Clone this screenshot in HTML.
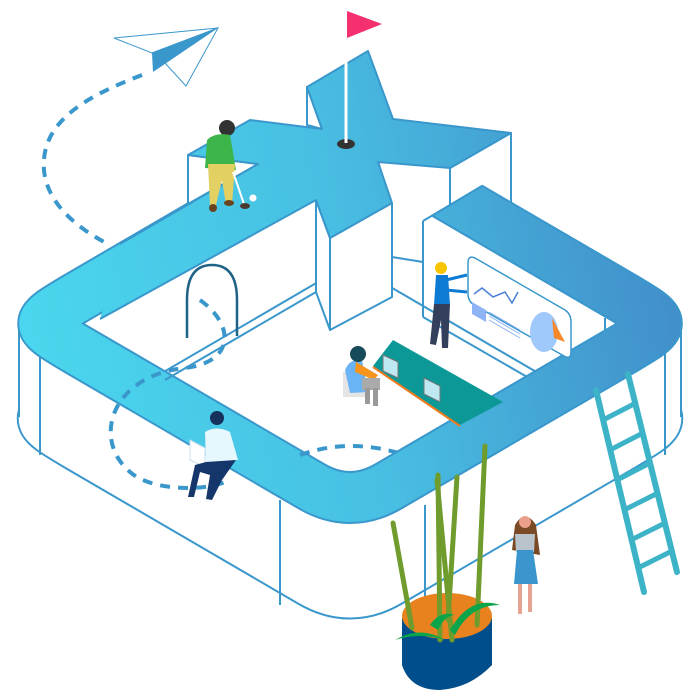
<!DOCTYPE html>
<html><head><meta charset="utf-8"><style>html,body{margin:0;padding:0;background:#fff}svg{display:block}</style></head>
<body>
<svg width="700" height="700" viewBox="0 0 700 700" xmlns="http://www.w3.org/2000/svg" xmlns:xlink="http://www.w3.org/1999/xlink">
<defs>
<linearGradient id="g" gradientUnits="userSpaceOnUse" x1="0" y1="400" x2="700" y2="250">
<stop offset="0" stop-color="#4ad9ef"/><stop offset="0.5" stop-color="#48bfe2"/><stop offset="1" stop-color="#418ac7"/>
</linearGradient>
<path id="ring" d="M76,349 L311,486 Q350,509 389,486 L624,349 C667,323.5 667,323.5 624,298 L389,161 Q350,138 311,161 L76,298 C33,323.5 33,323.5 76,349 Z"/>
<clipPath id="cr"><polygon points="380,246 540,150 700,150 700,700 380,700"/></clipPath>
</defs>

<path d="M142,75 C90,95 40,120 44,170 C47,205 80,230 110,245" fill="none" stroke="#3a97cc" stroke-width="4" stroke-dasharray="10 8"/>
<polygon points="114,38 218,28 152,53" fill="#fff" stroke="#3a97cc" stroke-width="1"/>
<polygon points="152,53 218,28 186,86 165,63" fill="#fff" stroke="#3a97cc" stroke-width="1"/>
<polygon points="152,53 218,28 153,72" fill="#3a97cc"/>

<use xlink:href="#ring" transform="translate(0,95)" fill="none" stroke="#3a97cc" stroke-width="54"/>
<g fill="none" stroke="#fff" stroke-width="50">
<use xlink:href="#ring" transform="translate(0,95)"/><use xlink:href="#ring" transform="translate(0,90)"/><use xlink:href="#ring" transform="translate(0,85)"/><use xlink:href="#ring" transform="translate(0,80)"/><use xlink:href="#ring" transform="translate(0,75)"/><use xlink:href="#ring" transform="translate(0,70)"/><use xlink:href="#ring" transform="translate(0,65)"/><use xlink:href="#ring" transform="translate(0,60)"/><use xlink:href="#ring" transform="translate(0,55)"/><use xlink:href="#ring" transform="translate(0,50)"/><use xlink:href="#ring" transform="translate(0,45)"/><use xlink:href="#ring" transform="translate(0,40)"/><use xlink:href="#ring" transform="translate(0,35)"/><use xlink:href="#ring" transform="translate(0,30)"/><use xlink:href="#ring" transform="translate(0,25)"/><use xlink:href="#ring" transform="translate(0,20)"/><use xlink:href="#ring" transform="translate(0,15)"/><use xlink:href="#ring" transform="translate(0,10)"/><use xlink:href="#ring" transform="translate(0,5)"/>
</g>
<g stroke="#3a97cc" stroke-width="2" fill="none">
<line x1="19" y1="322" x2="19" y2="417"/>
<line x1="681" y1="322" x2="681" y2="417"/>
<line x1="40" y1="352" x2="40" y2="455"/>
<line x1="280" y1="500" x2="280" y2="605"/>
<line x1="425" y1="505" x2="425" y2="605"/>
<line x1="665" y1="352" x2="665" y2="455"/>
</g>

<use xlink:href="#ring" fill="none" stroke="#3a97cc" stroke-width="53"/>
<use xlink:href="#ring" fill="none" stroke="url(#g)" stroke-width="49"/>

<polygon points="378,158 452,163 488,183 423,220 423,264 392,258 392,203" fill="#fff"/>

<g stroke="#3a97cc" stroke-width="2" fill="none">
<line x1="316" y1="292" x2="165" y2="380"/>
<line x1="423" y1="221" x2="423" y2="317"/>
<line x1="423" y1="317" x2="555" y2="393"/>
<line x1="392" y1="257" x2="423" y2="262"/>
<line x1="605" y1="318" x2="605" y2="345"/>
</g>

<path d="M187,338 V300 Q187,265 212,265 Q237,265 237,300 V336" fill="none" stroke="#1f6288" stroke-width="2.5"/>
<path d="M200,300 C235,325 235,362 185,368 C110,376 92,440 130,472 C150,490 200,492 225,482" fill="none" stroke="#3a97cc" stroke-width="4" stroke-dasharray="10 8"/>
<path d="M300,455 Q350,437 405,455" fill="none" stroke="#3a97cc" stroke-width="4" stroke-dasharray="10 8"/>

<g fill="#fff" stroke="#3a97cc" stroke-width="2" stroke-linejoin="round">
<polygon points="188,155 258,164 188,204"/>
<polygon points="316,200 330,238 330,330 316,292"/>
<polygon points="330,238 392,203 392,297 330,330"/>
<polygon points="450,168 511,133 511,215 450,215"/>
<polygon points="307,87 322,129 307,125"/>
</g>
<polygon points="307,87 368,51 393,119 511,133 450,168 378,162 392,203 330,238 316,200 100,319 108,290 120,244 258,164 188,155 250,120 322,129" fill="url(#g)"/>
<polyline points="100,319 316,200 330,238 392,203 378,162 450,168 511,133 393,119 368,51 307,87 322,129 250,120 188,155 258,164 120,244" fill="none" stroke="#3a97cc" stroke-width="2" stroke-linejoin="round"/>
<g clip-path="url(#cr)">
<use xlink:href="#ring" fill="none" stroke="#3a97cc" stroke-width="53"/>
<use xlink:href="#ring" fill="none" stroke="url(#g)" stroke-width="49"/>
</g>
<line x1="423" y1="221" x2="482" y2="186" stroke="#3a97cc" stroke-width="2"/>

<ellipse cx="346" cy="144" rx="9" ry="5" fill="#333"/>
<line x1="346" y1="12" x2="346" y2="143" stroke="#fff" stroke-width="3"/>
<polygon points="347,11 382,24 347,38" fill="#f5306e"/>

<path d="M475,258 L565,310 Q571,314 571,322 L571,352 Q571,360 564,356 L474,305 Q468,301 468,294 L468,263 Q468,255 475,258 Z" fill="#fff" stroke="#3a97cc" stroke-width="1.5"/>
<polyline points="474,294 482,288 493,297 505,292 512,303 518,292" fill="none" stroke="#4a7fd8" stroke-width="1.5"/>
<polygon points="472,302 486,310 486,322 472,314" fill="#8fb4f5"/>
<g stroke="#8fb4f5" stroke-width="1"><line x1="489" y1="312" x2="520" y2="330"/><line x1="489" y1="316" x2="520" y2="334"/><line x1="489" y1="320" x2="520" y2="338"/></g>
<ellipse cx="544" cy="332" rx="14" ry="20" fill="#9fc8fb"/>
<polygon points="552,318 565,342 554,338" fill="#f6882a"/>

<polygon points="373,366 393,340 503,402 460,425" fill="#0b9896"/>
<line x1="373" y1="367" x2="460" y2="426" stroke="#f07a1a" stroke-width="2"/>
<g fill="#bfe9f2" stroke="#777" stroke-width="1">
<polygon points="383,355 398,362 398,378 383,371"/><polygon points="424,378 440,386 440,402 424,394"/>
</g>
<rect x="343" y="372" width="22" height="25" fill="#e4e4e4"/>
<path d="M345,370 Q350,358 362,360 L368,392 L350,393 Z" fill="#6ab4f5"/>
<path d="M356,362 L378,375 L374,380 L355,372 Z" fill="#f7941d"/>
<rect x="362" y="378" width="18" height="12" fill="#aaa"/>
<rect x="365" y="388" width="5" height="16" fill="#999"/><rect x="373" y="388" width="5" height="18" fill="#999"/>
<circle cx="358" cy="354" r="8" fill="#174b5a"/>

<circle cx="441" cy="268" r="6" fill="#f6c500"/>
<path d="M436,275 L448,275 L450,305 L434,305 Z" fill="#0d7ad4"/>
<line x1="446" y1="280" x2="467" y2="275" stroke="#0d7ad4" stroke-width="3"/>
<line x1="446" y1="290" x2="467" y2="292" stroke="#0d7ad4" stroke-width="3"/>
<path d="M434,304 L450,304 L448,348 L442,348 L441,320 L436,345 L430,344 Z" fill="#343f5b"/>
<circle cx="227" cy="128" r="8" fill="#333"/>
<path d="M207,140 Q215,132 230,135 L236,170 L205,168 Z" fill="#3db54a"/>
<path d="M208,164 L235,164 L232,205 L226,205 L222,180 L216,205 L210,205 Z" fill="#e2d062"/>
<ellipse cx="213" cy="208" rx="4" ry="4" fill="#6a4420"/><ellipse cx="229" cy="203" rx="5" ry="3" fill="#6a4420"/>
<line x1="233" y1="172" x2="244" y2="204" stroke="#fff" stroke-width="2"/>
<ellipse cx="245" cy="206" rx="5" ry="3" fill="#4a3a30"/>
<circle cx="253" cy="198" r="3.5" fill="#fff"/>
<circle cx="217" cy="418" r="7" fill="#16325c"/>
<path d="M205,432 Q216,425 230,432 L238,460 L206,463 Z" fill="#e6f7fd"/>
<polygon points="190,440 205,448 205,467 190,460" fill="#fff" stroke="#cde" stroke-width="1"/>
<path d="M206,462 L236,460 L222,480 L212,500 L206,499 L210,475 L200,472 L194,497 L188,497 L195,465 Z" fill="#14366b"/>
<path d="M402,618 L402,665 Q410,690 440,690 Q470,688 492,665 L492,618 Z" fill="#004f8c"/>
<ellipse cx="447" cy="616" rx="45" ry="23" fill="#e7821f"/>
<g stroke="#6f9c2c" stroke-width="5" stroke-linecap="round" fill="none">
<path d="M393,523 L412,628"/><path d="M438,475 L440,640"/><path d="M437,480 L452,640"/><path d="M457,477 L448,620"/><path d="M485,446 L477,625"/>
</g>
<g fill="#0aa54a">
<path d="M395,640 Q420,625 445,640 Q420,632 395,640Z"/><path d="M450,630 Q470,595 500,605 Q470,605 455,635Z"/><path d="M430,625 Q440,610 455,615 Q445,615 438,630Z"/>
</g>
<path d="M515,525 Q525,508 536,525 L540,555 L512,550 Z" fill="#7a4a26"/>
<circle cx="525" cy="522" r="6" fill="#eaa08a"/>
<path d="M515,534 L535,534 L534,552 L516,552 Z" fill="#b8c3cb"/>
<path d="M517,550 L533,550 L538,584 L514,584 Z" fill="#3a96cc"/>
<rect x="518" y="584" width="4" height="30" fill="#e7a391"/><rect x="528" y="584" width="4" height="28" fill="#e7a391"/>
<g stroke="#3db3c8" stroke-linecap="round">
<line x1="596" y1="390" x2="644" y2="592" stroke-width="6"/>
<line x1="628" y1="374" x2="677" y2="572" stroke-width="6"/>
<g stroke-width="5"><line x1="603" y1="420" x2="634" y2="404"/><line x1="610" y1="450" x2="641" y2="434"/><line x1="617" y1="480" x2="648" y2="464"/><line x1="624" y1="510" x2="656" y2="494"/><line x1="631" y1="540" x2="663" y2="524"/><line x1="638" y1="568" x2="670" y2="552"/></g>
</g>
</svg>
</body></html>
